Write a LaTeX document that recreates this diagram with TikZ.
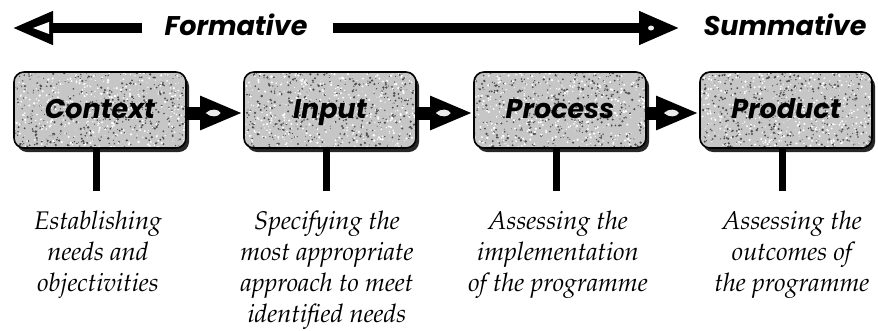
\documentclass[tikz,border=0pt]{standalone}
\usepackage{fontspec}
\newfontfamily\geo{Poppins}
\usetikzlibrary{arrows.meta,shadows,calc}
\newcommand\palit{\fontencoding{OT1}\fontfamily{ppl}\fontseries{m}\fontshape{it}\selectfont}
\pgfmathsetseed{7}
\tikzset{
  toplabel/.style={inner sep=0pt, font=\geo\bfseries\itshape\fontsize{27}{30}\selectfont},
  toparrow/.style={line width=10pt, -{Triangle[length=41pt,width=31pt]}},
  stagebox/.style={draw=black, line width=1.6pt, rounded corners=10pt, fill=gray!45,
    minimum width=172pt, minimum height=76pt, inner sep=0pt, text height=16pt, text depth=0pt,
    font=\geo\bfseries\itshape\fontsize{27}{30}\selectfont,
    drop shadow={shadow xshift=3pt, shadow yshift=-4pt, fill=black, opacity=0.85},
    path picture={
      \foreach \k in {1,...,500}{
        \fill[black!70] (path picture bounding box.north west) ++({rnd*178},{rnd*82}) circle ({0.4pt+0.9pt*rnd});
      }
      \foreach \k in {1,...,450}{
        \fill[white] (path picture bounding box.north west) ++({rnd*178},{rnd*82}) circle ({0.4pt+0.9pt*rnd});
      }
    }},
  flowarrow/.style={line width=13pt, -{Triangle[length=43pt,width=31pt]}},
  spot/.style={fill=gray!15},
  stemline/.style={line width=7pt},
  desc/.style={inner sep=0pt, align=center, font=\palit\fontsize{25.5}{31}\selectfont},
}
\begin{document}
\begin{tikzpicture}[x=1pt,y=-1pt]
\useasboundingbox (0,0) rectangle (878,330);
% top labels and arrows
\node[toplabel, anchor=base] (F) at (236,35) {Formative};
\node[toplabel, anchor=base] (S) at (785,35) {Summative};
\coordinate (Ltip) at (12,28);
\coordinate (Rtip) at (680,28);
\draw[toparrow] ($(F.west |- Ltip)+(-22,0)$) -- (Ltip);
\fill[white] (33,28) -- (49,22) -- (49,34) -- cycle;
\draw[toparrow] ($(F.east |- Rtip)+(25,0)$) -- (Rtip);
\fill[spot] (651,28) ellipse (3pt and 2.5pt);
% stage boxes
\node[stagebox] (ctx) at (100,110) {Context};
\node[stagebox] (inp) at (330,110) {Input};
\node[stagebox] (pro) at (560,110) {Process};
\node[stagebox] (prd) at (786,110) {Product};
% arrows between boxes
\foreach \a/\b in {ctx/inp, inp/pro, pro/prd}{
  \draw[flowarrow] ([yshift=-3pt]\a.east) -- ([yshift=-3pt]\b.west);
  \coordinate (m) at ($([yshift=-3pt]\a.east)!0.46!([yshift=-3pt]\b.west)$);
  \fill[spot] ($(m)+(-7,0)$) .. controls ($(m)+(-2,-5)$) and ($(m)+(6,-4)$) .. ($(m)+(8,0)$)
     .. controls ($(m)+(6,4)$) and ($(m)+(-2,5)$) .. cycle;
}
% stems
\foreach \n in {ctx,inp,pro,prd}{
  \coordinate (\n-end) at ($([xshift=-4pt]\n.south)+(0,42)$);
  \draw[stemline] ([xshift=-4pt]\n.south) -- (\n-end);
}
% descriptions
\node[desc, anchor=north] (dctx) at (98,211) {Establishing\\needs and\\objectivities};
\node[desc, anchor=north] (dinp) at (327,211) {Specifying the\\most appropriate\\approach to  meet\\identified needs};
\node[desc, anchor=north] (dpro) at (558,211) {Assessing the\\implementation\\of the programme};
\node[desc, anchor=north] (dprd) at (792,211) {Assessing the\\outcomes of\\the programme};
\end{tikzpicture}
\end{document}
